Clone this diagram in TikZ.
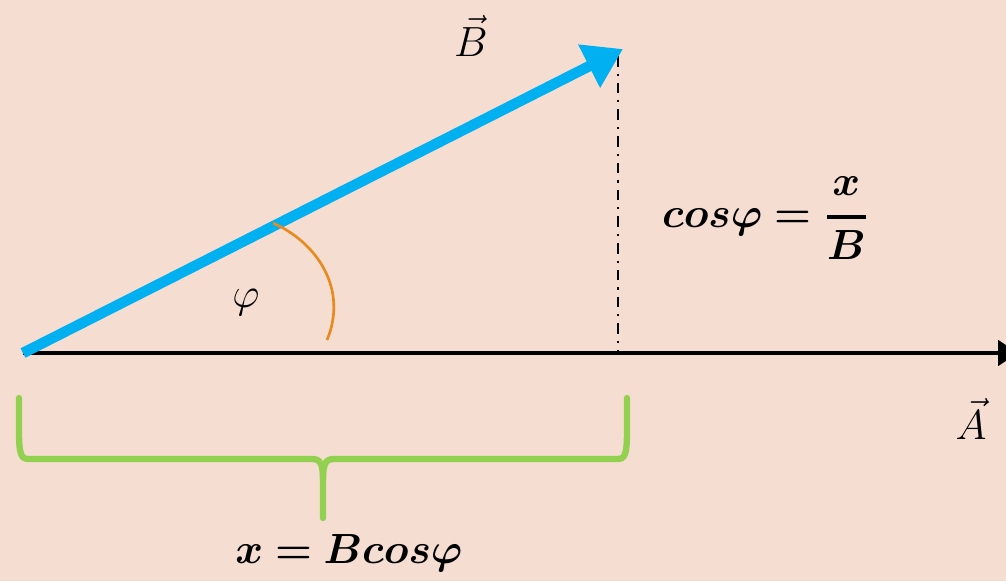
\documentclass[tikz,border=0pt]{standalone}
\usepackage{amsmath,bm}
\usepackage{tikz,xcolor}
\usetikzlibrary{arrows.meta}
\definecolor{bgpink}{RGB}{246,221,209}
\definecolor{vecblue}{RGB}{0,176,240}
\definecolor{bracegreen}{RGB}{146,208,80}
\definecolor{anglecol}{RGB}{232,138,30}
\tikzset{
    vecB/.style={draw=vecblue, line width=3pt, -{Triangle[length=0.38cm,width=0.46cm]}}, % blue vector
    vecA/.style={draw=black, line width=1.4pt, -{Triangle[length=0.2cm,width=0.25cm]}},
    proj/.style={draw=black, line width=0.6pt, dash dot},
    brace/.style={draw=bracegreen, line width=1.8pt, line cap=round},
    lbl/.style={inner sep=0pt, font=\fontsize{12.5}{14}\selectfont}
}

\begin{document}
\begin{tikzpicture}[x=0.01cm, y=-0.01cm]
	\fill[bgpink] (0,0) rectangle (1006,581);
	\useasboundingbox (0,0) rectangle (1006,581);

	\coordinate (O) at (23,353);
	\coordinate (Btip) at (623,49);
	\coordinate (top) at (618,56);
	\coordinate (foot) at (618,352);
	\coordinate (Aend) at (1018,353);

	\draw[vecA] (O) -- (Aend);
	\draw[proj] (top) -- (foot);
	\draw[vecB] (O) -- (Btip);
	\draw[draw=anglecol, line width=0.75pt] (273,223) .. controls (318,243) and (348,290) .. (327,340);

	\node (phi) [lbl] at (246,303) {$\varphi$};
	\node (Blbl) [lbl] at (471,36) {$\vec{B}$};
	\node (Albl) [lbl] at (971,419) {$\vec{A}$};
	\node (ratio) [lbl] at (766,218) {$\bm{cos\varphi = \genfrac{}{}{1.1pt}{0}{x}{B}}$};
	\node (xval) [lbl] at (349,553) {$\bm{x = Bcos\varphi}$};

	% curly brace under the projection
	\draw[brace] (19,398) -- (19,430) .. controls (19,455) and (21,459) .. (29,459)
		-- (312,459) .. controls (320,459) and (323,463) .. (323,480) -- (323,518);
	\draw[brace] (627,398) -- (627,430) .. controls (627,455) and (625,459) .. (617,459)
		-- (334,459) .. controls (326,459) and (323,463) .. (323,480);
\end{tikzpicture}
\end{document}
